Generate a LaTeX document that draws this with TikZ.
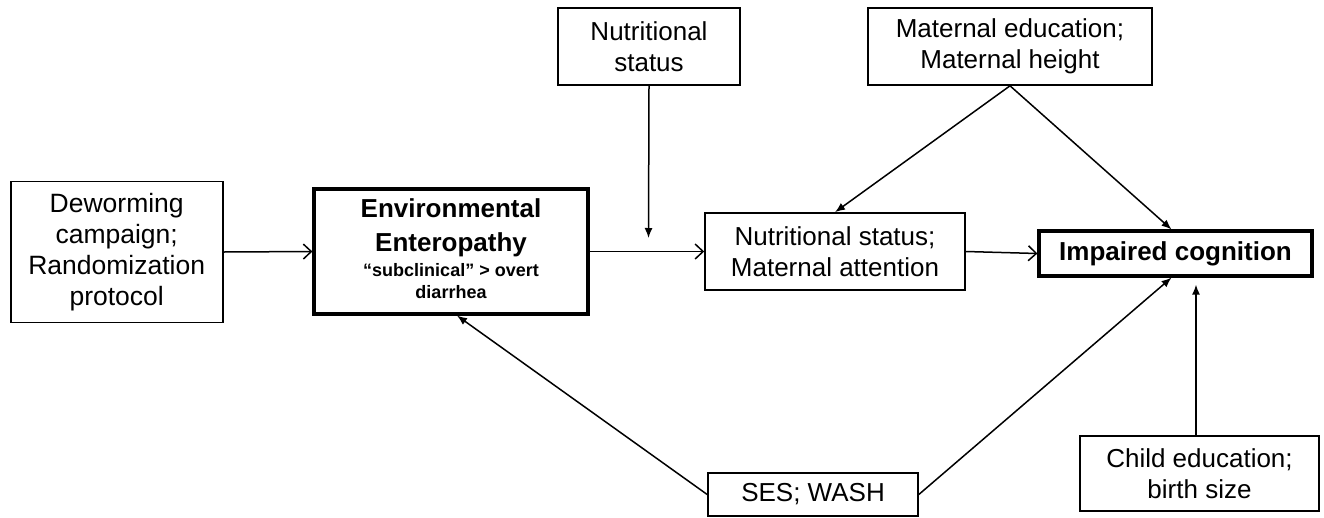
\documentclass[tikz,border=0pt]{standalone}
\usepackage{fontspec}
\setmainfont{Liberation Sans}
\usetikzlibrary{arrows.meta}
\begin{document}
\begin{tikzpicture}[x=1pt,y=-1pt,
  box/.style={draw, line width=1.6pt, inner sep=0pt, align=center,
    font=\fontsize{26}{31}\selectfont},
  heavybox/.style={box, line width=3.2pt},
  lbl/.style={anchor=base, inner sep=0pt},
  conn/.style={line width=1.5pt},
  barb/.style={conn, -{Straight Barb[length=8pt,width=15pt,line width=1.5pt]}},
  solidtip/.style={conn, -{Latex[length=10pt,width=8pt]}}]
\useasboundingbox (0,0) rectangle (1324,517);
% boxes
\node[box, minimum width=212pt, minimum height=141pt,
  font=\fontsize{26.5}{31}\selectfont] (dew) at (116.7,252)
  {Deworming\\campaign;\\Randomization\\protocol};
\node[heavybox, minimum width=274pt, minimum height=125pt] (ee) at (451,251.5) {};
\node[lbl, font=\fontsize{26}{30}\selectfont\bfseries] (eeA) at (451,217.7) {Environmental};
\node[lbl, font=\fontsize{26}{30}\selectfont\bfseries] (eeB) at (451,251) {Enteropathy};
\node[lbl, font=\fontsize{18}{22}\selectfont\bfseries] (eeC) at (451,276) {“subclinical” > overt};
\node[lbl, font=\fontsize{18}{22}\selectfont\bfseries] (eeD) at (451,298) {diarrhea};
\node[box, minimum width=182pt, minimum height=77pt] (topnut) at (649,46.5)
  {Nutritional\\status};
\node[box, minimum width=284pt, minimum height=77pt] (mat) at (1010,46.5)
  {Maternal education;\\Maternal height};
\node[box, minimum width=260pt, minimum height=77pt] (ns) at (835,251.5)
  {Nutritional status;\\Maternal attention};
\node[heavybox, minimum width=273pt, minimum height=45pt,
  font=\fontsize{26}{31}\selectfont\bfseries] (ic) at (1175.5,253.5)
  {Impaired cognition};
\node[box, minimum width=210pt, minimum height=43pt] (ses) at (813,494.5)
  {SES; WASH};
\node[box, minimum width=239pt, minimum height=75pt] (child) at (1199.5,473.5)
  {Child education;\\birth size};
% connectors
\draw[barb] (dew.east) -- (ee.west);
\draw[barb] (ee.east) -- (ns.west);
\draw[barb] (ns.east) -- (ic.west);
\coordinate (nutend) at (648.5,238);
\draw[solidtip] (topnut.south) -- (nutend);
\draw[solidtip] (mat.south) -- (ns.north);
\draw[solidtip] (mat.south) -- ([xshift=-4pt]ic.north);
\draw[solidtip] (ses.west) -- ([xshift=6pt]ee.south);
\draw[solidtip] (ses.east) -- ([xshift=-4pt]ic.south);
\coordinate (childtop) at ([xshift=-3.5pt]child.north);
\coordinate (icbelow) at (childtop |- ic.south);
\draw[solidtip] (childtop) -- ([yshift=-7pt]icbelow);
\end{tikzpicture}
\end{document}
